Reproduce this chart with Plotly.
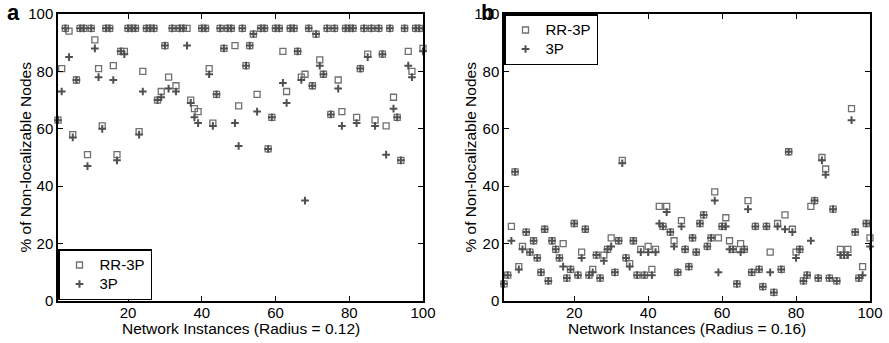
import plotly.graph_objects as go

# ---- data: panel a (radius 0.12) ----
instances = list(range(1, 101))

rr3p_a = [63, 81, 95, 94, 58, 77, 95, 95, 51, 95,
          91, 81, 61, 95, 95, 82, 51, 87, 87, 95,
          95, 95, 59, 80, 95, 95, 95, 70, 73, 89,
          78, 95, 75, 95, 95, 95, 70, 67, 66, 95,
          95, 81, 62, 72, 95, 88, 95, 95, 89, 68,
          95, 82, 89, 93, 72, 95, 95, 53, 64, 95,
          95, 87, 73, 95, 95, 87, 78, 79, 95, 75,
          93, 84, 79, 95, 65, 95, 77, 66, 95, 95,
          95, 64, 81, 95, 86, 95, 63, 95, 86, 61,
          95, 71, 64, 49, 95, 87, 80, 95, 95, 88]
p3_a = [63, 73, 95, 85, 57, 77, 95, 95, 47, 95,
        88, 78, 60, 95, 95, 77, 49, 87, 86, 95,
        95, 95, 58, 73, 95, 95, 95, 70, 71, 89,
        74, 95, 73, 95, 95, 89, 69, 64, 62, 95,
        95, 79, 61, 72, 95, 88, 95, 95, 62, 54,
        95, 82, 89, 93, 66, 95, 95, 53, 64, 95,
        95, 76, 69, 95, 95, 87, 77, 35, 95, 75,
        93, 82, 79, 95, 65, 95, 74, 61, 95, 95,
        95, 62, 81, 95, 85, 95, 61, 95, 86, 51,
        95, 67, 64, 49, 95, 82, 78, 95, 95, 87]

# ---- data: panel b (radius 0.16) ----
rr3p_b = [6, 9, 26, 45, 12, 19, 24, 17, 21, 15,
          10, 25, 7, 21, 18, 15, 20, 8, 11, 27,
          9, 17, 25, 9, 11, 16, 8, 16, 18, 22,
          10, 21, 49, 15, 13, 21, 9, 18, 9, 19,
          11, 18, 33, 26, 33, 24, 21, 10, 28, 18,
          12, 22, 17, 27, 30, 19, 22, 38, 22, 26,
          29, 21, 18, 6, 20, 18, 35, 10, 26, 11,
          5, 26, 17, 3, 27, 11, 30, 52, 25, 17,
          18, 7, 9, 33, 35, 8, 50, 46, 8, 32,
          7, 18, 16, 18, 67, 24, 8, 12, 27, 22]
p3_b = [6, 9, 21, 45, 11, 18, 24, 17, 21, 15,
        10, 25, 7, 21, 18, 15, 12, 8, 11, 27,
        9, 15, 25, 9, 10, 16, 8, 14, 18, 19,
        10, 21, 48, 15, 12, 21, 9, 17, 9, 17,
        9, 17, 27, 26, 31, 24, 19, 10, 26, 18,
        12, 22, 17, 27, 30, 19, 22, 35, 10, 26,
        26, 18, 18, 6, 17, 18, 32, 10, 26, 11,
        5, 26, 10, 3, 26, 11, 25, 52, 24, 15,
        18, 7, 9, 21, 35, 8, 49, 44, 8, 32,
        7, 16, 16, 16, 63, 24, 8, 9, 27, 19]

y_ticks = [0, 20, 40, 60, 80, 100]
x_ticks = [20, 40, 60, 80, 100]
series_names = ["RR-3P", "3P"]

FONT = "Liberation Sans, Arial, Helvetica, sans-serif"
SQ_COLOR = "#707070"
PLUS_COLOR = "#505050"

square_marker = dict(symbol="square-open", size=6, color=SQ_COLOR,
                     line=dict(color=SQ_COLOR, width=1.3))
plus_marker = dict(symbol="cross-thin-open", size=5.5, color=PLUS_COLOR,
                   line=dict(color=PLUS_COLOR, width=2))


def legend_label(name):
    # rows are spaced by the (smaller) legend font; the label itself is larger
    return f'<span style="font-size:15px">{name}</span>'


fig = go.Figure()

panels = [
    ("x", "y", "legend", rr3p_a, p3_a),
    ("x2", "y2", "legend2", rr3p_b, p3_b),
]
for xa, ya, leg, rr, p3 in panels:
    fig.add_trace(go.Scatter(x=instances, y=rr, mode="markers",
                             name=legend_label(series_names[0]),
                             marker=square_marker, xaxis=xa, yaxis=ya,
                             legend=leg, cliponaxis=False))
    fig.add_trace(go.Scatter(x=instances, y=p3, mode="markers",
                             name=legend_label(series_names[1]),
                             marker=plus_marker, xaxis=xa, yaxis=ya,
                             legend=leg, cliponaxis=False))

axis_common = dict(showline=True, linecolor="black", linewidth=1.5,
                   mirror="ticks", ticks="inside", ticklen=5, tickwidth=1,
                   tickcolor="black", showgrid=False, zeroline=False,
                   automargin=False,
                   tickfont=dict(family=FONT, size=15, color="black"))

y_dom = [1 - 301 / 343, 1 - 14 / 343]
xa_dom = [58 / 889, 423 / 889]
xb_dom = [504 / 889, 870 / 889]

legend_common = dict(bordercolor="black", borderwidth=1.5, bgcolor="white",
                     font=dict(family=FONT, size=12, color="black"),
                     tracegroupgap=0)

fig.update_layout(
    width=889, height=343,
    margin=dict(l=0, r=0, t=0, b=0, pad=0, autoexpand=False),
    paper_bgcolor="white", plot_bgcolor="white",
    font=dict(family=FONT, color="black"),
    xaxis=dict(domain=xa_dom, range=[1, 100], tickvals=x_ticks,
               anchor="y", ticklabelstandoff=-3, **axis_common),
    yaxis=dict(domain=y_dom, range=[0, 100], tickvals=y_ticks,
               anchor="x", **axis_common),
    xaxis2=dict(domain=xb_dom, range=[1, 100], tickvals=x_ticks,
                anchor="y2", ticklabelstandoff=-3, **axis_common),
    yaxis2=dict(domain=y_dom, range=[0, 100], tickvals=y_ticks,
                anchor="x2", **axis_common),
    legend=dict(x=58 / 889, y=1 - 300 / 343, xanchor="left", yanchor="bottom",
                **legend_common),
    legend2=dict(x=504 / 889, y=1 - 14 / 343, xanchor="left", yanchor="top",
                 **legend_common),
    showlegend=True,
)

title_font = dict(family=FONT, size=15.5, color="black")
annotations = [
    dict(text="Network Instances (Radius = 0.12)", x=sum(xa_dom) / 2,
         y=1 - 328 / 343, xref="paper", yref="paper", showarrow=False,
         font=title_font, xanchor="center", yanchor="middle"),
    dict(text="Network Instances (Radius = 0.16)", x=sum(xb_dom) / 2,
         y=1 - 328 / 343, xref="paper", yref="paper", showarrow=False,
         font=title_font, xanchor="center", yanchor="middle"),
    dict(text="% of Non-localizable Nodes", x=25 / 889, y=sum(y_dom) / 2,
         xref="paper", yref="paper", showarrow=False, textangle=-90,
         font=title_font, xanchor="center", yanchor="middle"),
    dict(text="% of Non-localizable Nodes", x=470 / 889, y=sum(y_dom) / 2,
         xref="paper", yref="paper", showarrow=False, textangle=-90,
         font=title_font, xanchor="center", yanchor="middle"),
    dict(text="<b>a</b>", x=13 / 889, y=1 - 13 / 343, xref="paper",
         yref="paper", showarrow=False, xanchor="center", yanchor="middle",
         font=dict(family=FONT, size=22, color="black")),
    dict(text="<b>b</b>", x=487 / 889, y=1 - 13 / 343, xref="paper",
         yref="paper", showarrow=False, xanchor="center", yanchor="middle",
         font=dict(family=FONT, size=22, color="black")),
]
fig.update_layout(annotations=annotations)

fig.write_html("out.html")
